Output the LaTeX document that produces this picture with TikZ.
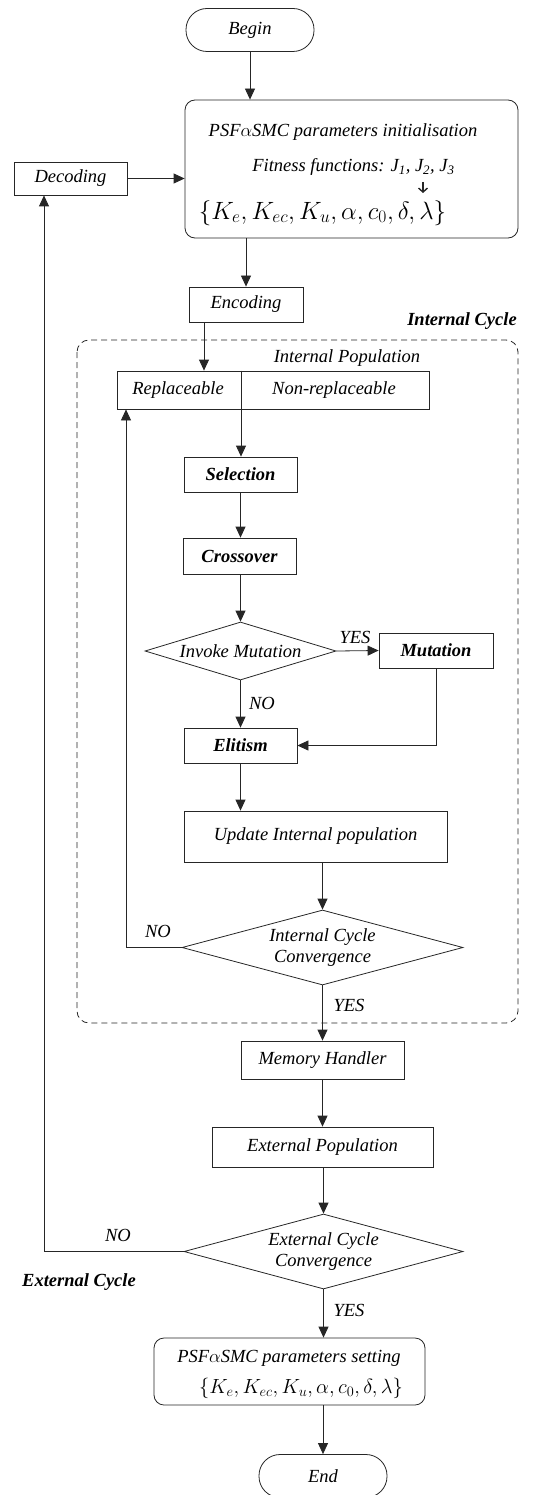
\RequirePackage{fix-cm}
\documentclass[tikz,border=0pt]{standalone}
\usepackage{fontspec}
\setmainfont{Liberation Serif}
\usetikzlibrary{arrows.meta,shapes.geometric}

\begin{document}
\begin{tikzpicture}[x=1pt,y=-1pt,
  font=\fontsize{18.5}{21}\selectfont\itshape,
  line width=0.8pt, draw=black!85,
  arr/.style={draw=black!85, -{Triangle[length=11pt,width=10pt]}},
  box/.style={draw, rectangle, inner sep=0pt},
  bbox/.style={box, font=\fontsize{18.5}{21}\selectfont\bfseries\itshape},
  term/.style={draw, rectangle, rounded corners=21pt, minimum width=128pt, minimum height=43pt, inner sep=0pt},
  rbox/.style={draw, rectangle, rounded corners=10pt, inner sep=0pt},
  decision/.style={draw, diamond, inner sep=0pt, align=center},
  lbl/.style={inner sep=0pt},
  blbl/.style={inner sep=0pt, font=\fontsize{18.5}{21}\selectfont\bfseries\itshape}
]
\useasboundingbox (0,0) rectangle (533,1495);

% helper x positions for vertical connectors
\coordinate (encx) at (204,0);
\coordinate (divx) at (241,0);
\coordinate (retx) at (126,0);
\coordinate (extx) at (44,0);

% start and initialisation
\node[term] (begin) at (250,30) {Begin};
\node[rbox, minimum width=333pt, minimum height=138pt] (init) at (351.5,169) {};
\node[lbl] (initA) at (343,132) {PSF$\alpha$SMC parameters initialisation};
\node[lbl] (initB) at (353.5,167) {Fitness functions: J\textsubscript{1}, J\textsubscript{2}, J\textsubscript{3}};
\node[lbl, font=\fontsize{25}{28}\selectfont] (initC) at (322.5,213) {$\{K_e, K_{ec}, K_u, \alpha, c_0, \delta, \lambda\}$};
\draw[line width=1.4pt, -{Straight Barb[length=4pt,width=9pt]}] (423,182) -- (423,193);

\node[box, minimum width=113pt, minimum height=33pt] (decoding) at (70.5,178.5) {Decoding};
\node[box, minimum width=114pt, minimum height=35pt] (encoding) at (246,304.5) {Encoding};

% internal cycle frame
\node[blbl] (intlabel) at (462,321) {Internal Cycle};
\draw[dash pattern=on 6pt off 4pt, rounded corners=12pt] (77,340) rectangle (518,1023);
\node[lbl] (intpoplabel) at (347,358) {Internal Population};

\node[box, minimum width=312pt, minimum height=38pt] (pop) at (273,390) {};
\node[lbl] (repl) at (178,390) {Replaceable};
\node[lbl] (nonrepl) at (334,390) {Non-replaceable};
\draw (pop.north -| divx) -- (pop.south -| divx);

\node[bbox, minimum width=113pt, minimum height=35pt] (selection) at (240.5,474.5) {Selection};
\node[bbox, minimum width=113pt, minimum height=36pt] (crossover) at (239.5,556) {Crossover};
\node[decision, aspect=3.3, minimum width=191pt, minimum height=58pt] (invoke) at (240.5,651) {Invoke Mutation};
\node[bbox, minimum width=114pt, minimum height=35pt] (mutation) at (436,650.5) {Mutation};
\node[bbox, minimum width=113pt, minimum height=35pt] (elitism) at (240.5,745.5) {Elitism};
\node[box, minimum width=263pt, minimum height=51pt] (update) at (315.5,836.5) {Update Internal population};
\node[decision, aspect=3.75, minimum width=281pt, minimum height=75pt] (intconv) at (322.5,947.5) {Internal Cycle\\Convergence};

% external part
\node[box, minimum width=163pt, minimum height=38pt] (memory) at (322.5,1060) {Memory Handler};
\node[box, minimum width=221pt, minimum height=40pt] (extpop) at (322.5,1147) {External Population};
\node[decision, aspect=3.72, minimum width=279pt, minimum height=75pt] (extconv) at (323.5,1251.5) {External Cycle\\Convergence};
\node[blbl] (extlabel) at (79,1282) {External Cycle};

\node[rbox, minimum width=271pt, minimum height=67pt] (setting) at (289.5,1371.5) {};
\node[lbl] (settingA) at (289,1358) {PSF$\alpha$SMC parameters setting};
\node[lbl, font=\fontsize{20.5}{24}\selectfont] (settingB) at (301,1388) {$\{K_e, K_{ec}, K_u, \alpha, c_0, \delta, \lambda\}$};
\node[term] (end) at (323,1476) {End};

% branch labels
\node[lbl] (yes1) at (355,637) {YES};
\node[lbl] (no1) at (262,703) {NO};
\node[lbl] (no2) at (158,931) {NO};
\node[lbl] (yes2) at (349,1005) {YES};
\node[lbl] (no3) at (118,1235) {NO};
\node[lbl] (yes3) at (349,1310) {YES};

% connectors
\draw[arr] (begin.south) -- (begin.south |- init.north);
\draw[arr] (decoding.east) -- (decoding.east -| init.west);
\draw[arr] (init.south -| encoding.north) -- (encoding.north);
\draw[arr] (encoding.south -| encx) -- (pop.north -| encx);
\draw[arr] (pop.south -| divx) -- (selection.north -| divx);
\draw[arr] (selection.south) -- (selection.south |- crossover.north);
\draw[arr] (crossover.south -| invoke.north) -- (invoke.north);
\draw[arr] (invoke.east) -- (mutation.west);
\draw[arr] (invoke.south) -- (invoke.south |- elitism.north);
\draw[arr] (mutation.south) |- (elitism.east);
\draw[arr] (elitism.south) -- (elitism.south |- update.north);
\draw[arr] (update.south -| intconv.north) -- (intconv.north);
\draw[arr] (intconv.west) -| (pop.south -| retx);
\draw[arr] (intconv.south) -- (intconv.south |- memory.north);
\draw[arr] (memory.south) -- (memory.south |- extpop.north);
\draw[arr] (extpop.south -| extconv.north) -- (extconv.north);
\draw[arr] (extconv.west) -| (decoding.south -| extx);
\draw[arr] (extconv.south) -- (extconv.south |- setting.north);
\draw[arr] (setting.south -| end.north) -- (end.north);
\end{tikzpicture}
\end{document}
